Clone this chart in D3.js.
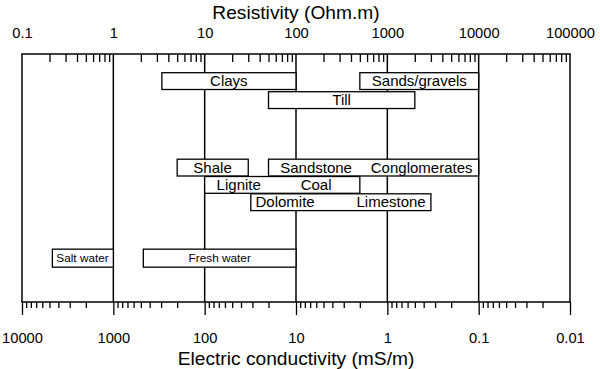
<!DOCTYPE html>
<html lang="en">
<head>
    <meta charset="UTF-8">
    <title>Resistivity of rocks and waters</title>
    <style>
        body {
            margin: 0;
            background: #fff;
            overflow: hidden;
        }
        svg {
            display: block;
            font-family: "Liberation Sans", Arial, sans-serif;
        }
        .tick text {
            font-family: "Liberation Sans", Arial, sans-serif;
            font-size: 14.7px;
            fill: #000;
        }
        .tick line {
            stroke: #000;
            stroke-width: 1.3px;
        }
        .title {
            font-size: 19.2px;
            fill: #000;
        }
        .box rect {
            fill: #fff;
            stroke: #000;
            stroke-width: 1.3px;
        }
        .box-label {
            font-size: 15px;
            fill: #000;
        }
        .box-label.water {
            font-size: 11.8px;
        }
    </style>
</head>
<body>

<svg id="chart" width="600" height="369"></svg>

<script src="https://d3js.org/d3.v7.min.js"></script>
<script>
    // axis ticks
    const resistivityTicks = [0.1, 1, 10, 100, 1000, 10000, 100000];
    const conductivityTicks = [10000, 1000, 100, 10, 1, 0.1, 0.01];
    const tickLabelsTop = ["0.1", "1", "10", "100", "1000", "10000", "100000"];
    const tickLabelsBottom = ["10000", "1000", "100", "10", "1", "0.1", "0.01"];

    // resistivity ranges (Ohm.m) of each box
    const boxNames = ["Clays", "Sands/gravels", "Till", "Shale", "Sandstone/Conglomerates",
        "Lignite/Coal", "Dolomite/Limestone", "Salt water", "Fresh water"];
    const boxMin = [3.4, 500, 50, 5, 50, 10, 32, 0.215, 2.13];
    const boxMax = [100, 10000, 2000, 30, 10000, 500, 3000, 1, 100];
    const boxRow = [0, 0, 1.1, 5, 5, 6, 7, 10.2, 10.2];
    const boxKind = ["rock", "rock", "rock", "rock", "rock", "rock", "rock", "water", "water"];

    // labels written inside the boxes, placed at a resistivity value
    const labelText = ["Clays", "Sands/gravels", "Till", "Shale", "Sandstone", "Conglomerates",
        "Lignite", "Coal", "Dolomite", "Limestone", "Salt water", "Fresh water"];
    const labelAt = [18.4, 2240, 316, 12.2, 166, 2375, 23.6, 166, 76, 1100, 0.46, 14.6];
    const labelRow = [0, 0, 1.1, 5, 5, 5, 6, 6, 7, 7, 10.2, 10.2];
    const labelKind = ["rock", "rock", "rock", "rock", "rock", "rock", "rock", "rock", "rock", "rock", "water", "water"];

    const svg = d3.select("#chart");
    const plotLeft = 22, plotRight = 570, plotTop = 54, plotBottom = 302;

    const x = d3.scaleLog().domain([0.1, 100000]).range([plotLeft, plotRight]);
    const xc = d3.scaleLog().domain([10000, 0.01]).range([plotLeft, plotRight]);
    const y = d3.scaleLinear().domain([0, 1]).range([72.7, 90]);
    const boxH = 16.8;

    // minor ticks (2..9 per decade)
    function minorTicks(lo, hi) {
        const out = [];
        for (let e = lo; e < hi; e++) {
            for (let k = 2; k <= 9; k++) out.push(k * Math.pow(10, e));
        }
        return out;
    }

    // decade gridlines
    svg.append("g")
        .selectAll("line")
        .data(resistivityTicks)
        .join("line")
        .attr("x1", d => x(d)).attr("x2", d => x(d))
        .attr("y1", plotTop).attr("y2", plotBottom)
        .attr("stroke", "#000")
        .attr("stroke-width", 1.5);

    // frame top and bottom
    svg.append("g")
        .selectAll("line")
        .data([plotTop, plotBottom])
        .join("line")
        .attr("x1", plotLeft - 0.75).attr("x2", plotRight + 0.75)
        .attr("y1", d => d).attr("y2", d => d)
        .attr("stroke", "#000")
        .attr("stroke-width", 1.6);

    // top axis: labels above, minor ticks pointing inward
    const topLabels = svg.append("g")
        .attr("transform", `translate(0,${plotTop})`)
        .call(d3.axisTop(x).tickValues(resistivityTicks).tickSize(0).tickPadding(16)
            .tickFormat((d, i) => tickLabelsTop[i]));
    topLabels.select(".domain").remove();

    const topMinor = svg.append("g")
        .attr("transform", `translate(0,${plotTop})`)
        .call(d3.axisBottom(x).tickValues(minorTicks(-1, 5)).tickSize(8).tickFormat(""));
    topMinor.select(".domain").remove();

    // bottom axis: conductivity, ticks pointing outward
    const bottomMajor = svg.append("g")
        .attr("transform", `translate(0,${plotBottom})`)
        .call(d3.axisBottom(xc).tickValues(conductivityTicks).tickSize(13).tickPadding(18)
            .tickFormat((d, i) => tickLabelsBottom[i]));
    bottomMajor.select(".domain").remove();
    bottomMajor.selectAll(".tick line").attr("stroke-width", 1.5);

    const bottomMinor = svg.append("g")
        .attr("transform", `translate(0,${plotBottom})`)
        .call(d3.axisBottom(xc).tickValues(minorTicks(-2, 4)).tickSize(6).tickFormat(""));
    bottomMinor.select(".domain").remove();

    // axis titles
    svg.append("text")
        .attr("class", "title")
        .attr("x", (plotLeft + plotRight) / 2)
        .attr("y", 18.5)
        .attr("text-anchor", "middle")
        .text("Resistivity (Ohm.m)");

    svg.append("text")
        .attr("class", "title")
        .attr("x", (plotLeft + plotRight) / 2)
        .attr("y", 365)
        .attr("text-anchor", "middle")
        .text("Electric conductivity (mS/m)");

    // boxes
    const boxes = boxNames.map((name, i) => ({
        name: name, lo: boxMin[i], hi: boxMax[i], row: boxRow[i], kind: boxKind[i]
    }));

    svg.append("g")
        .selectAll("g")
        .data(boxes)
        .join("g")
        .attr("class", "box")
        .append("rect")
        .attr("x", d => x(d.lo))
        .attr("y", d => y(d.row))
        .attr("width", d => x(d.hi) - x(d.lo))
        .attr("height", d => d.kind === "water" ? 18 : boxH);

    const labels = labelText.map((t, i) => ({
        text: t, at: labelAt[i], row: labelRow[i], kind: labelKind[i]
    }));

    svg.append("g")
        .selectAll("text")
        .data(labels)
        .join("text")
        .attr("class", d => "box-label " + d.kind)
        .attr("x", d => x(d.at))
        .attr("y", d => y(d.row) + (d.kind === "water" ? 9 : boxH / 2))
        .attr("dy", "0.35em")
        .attr("text-anchor", "middle")
        .text(d => d.text);
</script>

</body>
</html>
